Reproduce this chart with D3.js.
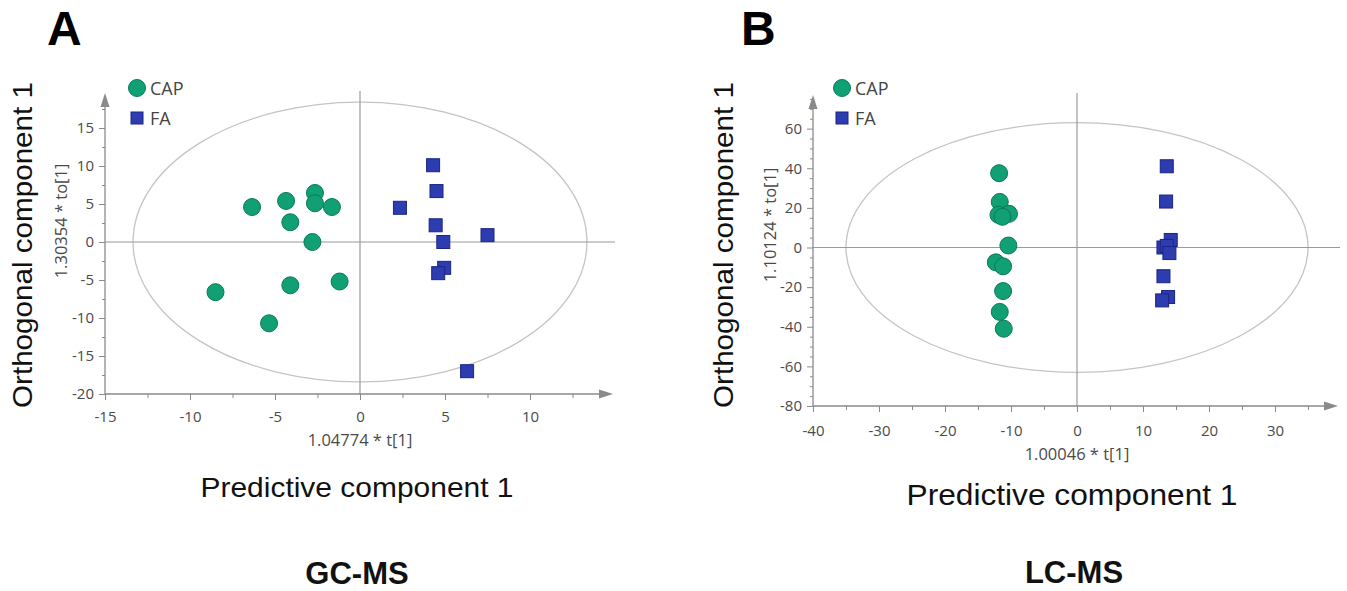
<!DOCTYPE html>
<html lang="en">
<head>
<meta charset="UTF-8" />
<title>OPLS-DA score plots</title>
<script src="https://d3js.org/d3.v7.min.js"></script>
<style>
  body { margin: 0; background: #fff; }
  svg { display: block; }
  .tick text { font-family: 'Open Sans', 'Noto Sans', sans-serif; fill: #4a4a4a; }
</style>
</head>
<body>
<svg id="chart" width="1347" height="591"></svg>
<script>
// --- data ---
const groups = ["CAP", "FA"];

// panel A (GC-MS)
const gcCapX = [-6.35, -4.35, -2.65, -2.65, -1.65, -4.1, -2.8, -8.5, -4.1, -1.2, -5.35];
const gcCapY = [4.6, 5.4, 6.45, 5.1, 4.6, 2.6, 0.0, -6.6, -5.7, -5.2, -10.7];
const gcFaX  = [4.3, 4.5, 2.35, 4.45, 7.5, 4.9, 4.95, 4.6, 6.3];
const gcFaY  = [10.1, 6.7, 4.5, 2.2, 0.9, 0.0, -3.4, -4.1, -17.0];

// panel B (LC-MS)
const lcCapX = [-11.8, -11.7, -11.9, -10.3, -11.3, -10.4, -12.3, -11.2, -11.2, -11.7, -11.1];
const lcCapY = [37.5, 23, 16.5, 17, 15.5, 1, -7.5, -9.5, -22, -32.5, -41];
const lcFaX  = [13.6, 13.5, 14.2, 13.1, 13.6, 14.0, 13.1, 13.8, 12.9];
const lcFaY  = [41, 23.2, 3.8, 0, 0.8, -2.8, -14.5, -25, -26.7];

const gcXTicks = [-15, -10, -5, 0, 5, 10];
const gcYTicks = [-20, -15, -10, -5, 0, 5, 10, 15];
const lcXTicks = [-40, -30, -20, -10, 0, 10, 20, 30];
const lcYTicks = [-80, -60, -40, -20, 0, 20, 40, 60];

const capColor = "#10a074", capStroke = "#0a7a56";
const faColor = "#2d3caf", faStroke = "#1b2584";
const axisGray = "#8a8a8a";
const tickFmt = d => String(d); // plain hyphen minus like the original

const svg = d3.select("#chart");

const panels = [
  {
    letter: "A", letterX: 47, title: "GC-MS",
    capX: gcCapX, capY: gcCapY, faX: gcFaX, faY: gcFaY,
    xDomain: [-15, 15], xRange: [105, 615],
    yDomain: [-20, 20], yRange: [394, 90],
    xTicks: gcXTicks, yTicks: gcYTicks, xMinor: 2.5, yMinor: 2.5,
    xEnd: 613, yTop: 93, hEnd: 615,
    ell: [13.35, 18.4],
    xSub: "1.04774 * t[1]", ySub: "1.30354 * to[1]",
    yTitleX: 32, ySubX: 67, ySubY: 221, legendX: 137,
    xTickY: 422, xSubY: 446,
    xTitleX: 357, xTitleY: 497, xTitleLen: 313, xTitleSize: 28,
    titleX: 357, titleY: 584
  },
  {
    letter: "B", letterX: 741, title: "LC-MS",
    capX: lcCapX, capY: lcCapY, faX: lcFaX, faY: lcFaY,
    xDomain: [-40, 40], xRange: [813, 1341],
    yDomain: [-80, 80], yRange: [406, 89],
    xTicks: lcXTicks, yTicks: lcYTicks, xMinor: 5, yMinor: 5,
    xEnd: 1338, yTop: 95, hEnd: 1340,
    ell: [35, 63],
    xSub: "1.00046 * t[1]", ySub: "1.10124 * to[1]",
    yTitleX: 733, ySubX: 776, ySubY: 225, legendX: 842,
    xTickY: 436, xSubY: 460,
    xTitleX: 1072, xTitleY: 505, xTitleLen: 331, xTitleSize: 30,
    titleX: 1074, titleY: 583
  }
];

panels.forEach(p => {
  const x = d3.scaleLinear().domain(p.xDomain).range(p.xRange);
  const y = d3.scaleLinear().domain(p.yDomain).range(p.yRange);
  const g = svg.append("g");
  const x0 = p.xRange[0], yb = p.yRange[0];

  // panel letter
  g.append("text").attr("x", p.letterX).attr("y", 45)
    .attr("font-family", "'Liberation Sans', Arial, sans-serif")
    .attr("font-weight", "bold").attr("font-size", 48).text(p.letter);

  // ellipse (Hotelling T2)
  g.append("ellipse")
    .attr("cx", x(0)).attr("cy", y(0))
    .attr("rx", x(p.ell[0]) - x(0)).attr("ry", y(0) - y(p.ell[1]))
    .attr("fill", "none").attr("stroke", "#c4c4c4").attr("stroke-width", 1.3);

  // zero lines
  g.append("line").attr("x1", x0).attr("x2", p.hEnd).attr("y1", y(0)).attr("y2", y(0))
    .attr("stroke", "#9a9a9a").attr("stroke-width", 1.2);
  g.append("line").attr("x1", x(0)).attr("x2", x(0)).attr("y1", p.yTop - 2).attr("y2", yb)
    .attr("stroke", "#9a9a9a").attr("stroke-width", 1.2);

  // minor ticks
  const xMinorVals = d3.range(p.xDomain[0], p.xDomain[1] - 1, p.xMinor).filter(v => !p.xTicks.includes(v));
  const yMinorVals = d3.range(p.yDomain[0], p.yDomain[1] - 1, p.yMinor).filter(v => !p.yTicks.includes(v));
  g.append("g").attr("transform", `translate(0,${yb})`)
    .call(d3.axisBottom(x).tickValues(xMinorVals).tickSize(4).tickFormat(""))
    .call(s => s.select(".domain").remove())
    .call(s => s.selectAll("line").attr("stroke", axisGray));
  g.append("g").attr("transform", `translate(${x0},0)`)
    .call(d3.axisLeft(y).tickValues(yMinorVals).tickSize(3).tickFormat(""))
    .call(s => s.select(".domain").remove())
    .call(s => s.selectAll("line").attr("stroke", axisGray));

  // major ticks
  const xa = g.append("g").attr("transform", `translate(0,${yb})`)
    .call(d3.axisBottom(x).tickValues(p.xTicks).tickSize(6).tickPadding(8).tickFormat(tickFmt))
    .call(s => s.select(".domain").remove())
    .call(s => s.selectAll("line").attr("stroke", axisGray));
  xa.selectAll("text").attr("font-size", 15).attr("dy", null).attr("y", p.xTickY - yb);
  g.append("g").attr("transform", `translate(${x0},0)`)
    .call(d3.axisLeft(y).tickValues(p.yTicks).tickSize(6).tickPadding(5).tickFormat(tickFmt))
    .call(s => s.select(".domain").remove())
    .call(s => s.selectAll("line").attr("stroke", axisGray))
    .call(s => s.selectAll("text").attr("font-size", 15));

  // axis lines with arrows
  g.append("line").attr("x1", x0).attr("x2", p.xEnd - 10).attr("y1", yb).attr("y2", yb)
    .attr("stroke", axisGray).attr("stroke-width", 1.3);
  g.append("path")
    .attr("d", `M${p.xEnd},${yb} L${p.xEnd - 14},${yb - 4.5} L${p.xEnd - 14},${yb + 4.5} Z`)
    .attr("fill", axisGray);
  g.append("line").attr("x1", x0).attr("x2", x0).attr("y1", yb).attr("y2", p.yTop + 10)
    .attr("stroke", axisGray).attr("stroke-width", 1.3);
  g.append("path")
    .attr("d", `M${x0},${p.yTop} L${x0 - 4.5},${p.yTop + 14} L${x0 + 4.5},${p.yTop + 14} Z`)
    .attr("fill", axisGray);

  // points
  const cap = p.capX.map((v, i) => ({ x: v, y: p.capY[i] }));
  const fa = p.faX.map((v, i) => ({ x: v, y: p.faY[i] }));
  g.selectAll(".cap").data(cap).enter().append("circle")
    .attr("cx", d => x(d.x)).attr("cy", d => y(d.y)).attr("r", 8.5)
    .attr("fill", capColor).attr("stroke", capStroke).attr("stroke-width", 1);
  const sq = 13;
  g.selectAll(".fa").data(fa).enter().append("rect")
    .attr("x", d => x(d.x) - sq / 2).attr("y", d => y(d.y) - sq / 2)
    .attr("width", sq).attr("height", sq)
    .attr("fill", faColor).attr("stroke", faStroke).attr("stroke-width", 1);

  // legend
  const lg = g.append("g").attr("font-family", "'Open Sans', 'Noto Sans', sans-serif")
    .attr("font-size", 18).attr("fill", "#444");
  groups.forEach((name, i) => {
    const cy = 88 + i * 30;
    if (name === "CAP") {
      lg.append("circle").attr("cx", p.legendX).attr("cy", cy).attr("r", 8.5)
        .attr("fill", capColor).attr("stroke", capStroke);
    } else {
      lg.append("rect").attr("x", p.legendX - 6).attr("y", cy - 6).attr("width", 12).attr("height", 12)
        .attr("fill", faColor).attr("stroke", faStroke);
    }
    lg.append("text").attr("x", p.legendX + 13).attr("y", cy + 6.5).text(name);
  });

  // axis sub-labels
  g.append("text").attr("x", x(0)).attr("y", p.xSubY).attr("text-anchor", "middle")
    .attr("font-family", "'Open Sans', 'Noto Sans', sans-serif").attr("font-size", 16.5)
    .attr("fill", "#4a4a4a").text(p.xSub);
  g.append("text").attr("transform", `translate(${p.ySubX},${p.ySubY}) rotate(-90)`)
    .attr("text-anchor", "middle")
    .attr("font-family", "'Open Sans', 'Noto Sans', sans-serif").attr("font-size", 16.5)
    .attr("fill", "#4a4a4a").text(p.ySub);

  // main axis titles
  g.append("text").attr("x", p.xTitleX).attr("y", p.xTitleY).attr("text-anchor", "middle")
    .attr("font-family", "'Liberation Sans', Arial, sans-serif").attr("font-size", p.xTitleSize)
    .attr("textLength", p.xTitleLen).attr("lengthAdjust", "spacingAndGlyphs")
    .attr("fill", "#111").text("Predictive component 1");
  g.append("text").attr("transform", `translate(${p.yTitleX},245) rotate(-90)`)
    .attr("text-anchor", "middle")
    .attr("font-family", "'Liberation Sans', Arial, sans-serif").attr("font-size", 28)
    .attr("textLength", 326).attr("lengthAdjust", "spacingAndGlyphs")
    .attr("fill", "#111").text("Orthogonal component 1");

  // technique title
  g.append("text").attr("x", p.titleX).attr("y", p.titleY).attr("text-anchor", "middle")
    .attr("font-family", "'Liberation Sans', Arial, sans-serif").attr("font-weight", "bold")
    .attr("font-size", 31).attr("fill", "#111").text(p.title);
});
</script>
</body>
</html>
